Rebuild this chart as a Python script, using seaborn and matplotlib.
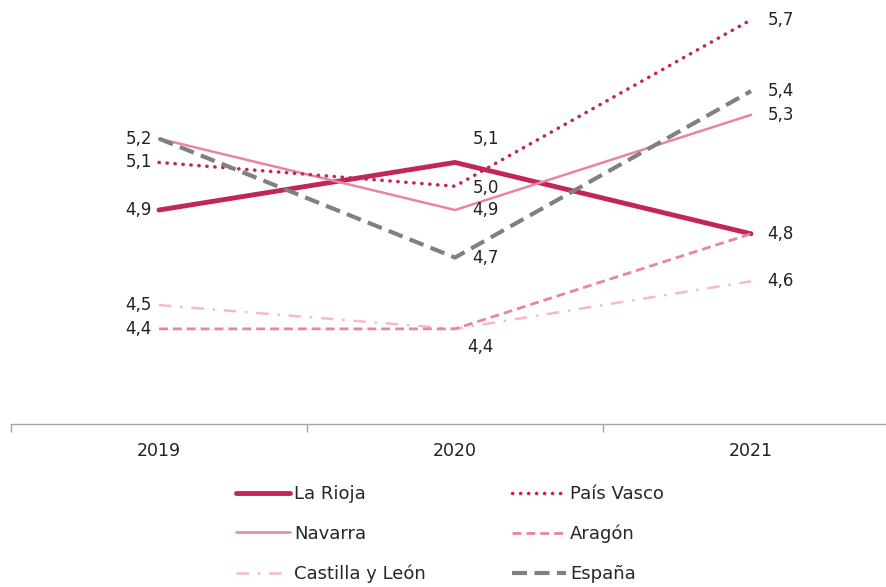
import pandas as pd
import seaborn as sns
import matplotlib.pyplot as plt

sns.set_theme(style="white")
plt.rcParams['font.family'] = ['DejaVu Sans']

years = ["2019", "2020", "2021"]
la_rioja = [4.9, 5.1, 4.8]
pais_vasco = [5.1, 5.0, 5.7]
navarra = [5.2, 4.9, 5.3]
aragon = [4.4, 4.4, 4.8]
castilla_leon = [4.5, 4.4, 4.6]
espana = [5.2, 4.7, 5.4]

# legend order (column first): left column then right column
series = [
    ("La Rioja", la_rioja, "#C2255A", "-", 3.5),
    ("Navarra", navarra, "#E8859F", "-", 1.8),
    ("Castilla y León", castilla_leon, "#F4BACB", (0, (5, 3.5, 1, 3.5)), 1.8),
    ("País Vasco", pais_vasco, "#C2255A", (0, (0.1, 2.2)), 2.5),
    ("Aragón", aragon, "#E8859F", (0, (3.2, 1.8)), 2.0),
    ("España", espana, "#808080", (0, (3.6, 1.8)), 3.0),
]

fig = plt.figure(figsize=(8.86, 5.87), dpi=100)
ax = fig.add_axes([11 / 886, 163 / 587, 888 / 886, 428 / 587])

for name, vals, color, ls, lw in series:
    df = pd.DataFrame({"year": years, "value": vals})
    sns.lineplot(data=df, x="year", y="value", ax=ax, color=color,
                 linestyle=ls, linewidth=lw, label=name, sort=False,
                 dash_capstyle="round" if name == "País Vasco" else "butt")

ax.set_xlim(-0.5, 2.5)
ax.set_ylim(4.0, 5.8)

def fmt(v):
    return f"{v:.1f}".replace(".", ",")

lab_kw = dict(textcoords="offset points", fontsize=12, color="#222222", va="center")
# 2019: left of the points
for v in [5.2, 5.1, 4.9, 4.5, 4.4]:
    ax.annotate(fmt(v), (0, v), xytext=(-5, 0), ha="right", **lab_kw)
# 2020
ax.annotate(fmt(la_rioja[1]), (1, la_rioja[1]), xytext=(22, 17), ha="center", **lab_kw)
ax.annotate(fmt(pais_vasco[1]), (1, pais_vasco[1]), xytext=(22, -1), ha="center", **lab_kw)
ax.annotate(fmt(navarra[1]), (1, navarra[1]), xytext=(22, 0), ha="center", **lab_kw)
ax.annotate(fmt(espana[1]), (1, espana[1]), xytext=(22, 0), ha="center", **lab_kw)
ax.annotate(fmt(aragon[1]), (1, aragon[1]), xytext=(18, -13), ha="center", **lab_kw)
# 2021: right of the points
for v in [5.7, 5.4, 5.3, 4.8, 4.6]:
    ax.annotate(fmt(v), (2, v), xytext=(12, 0), ha="left", **lab_kw)

for side in ["top", "right", "left"]:
    ax.spines[side].set_visible(False)
ax.spines["bottom"].set_color("#A6A6A6")
ax.spines["bottom"].set_linewidth(1.0)
ax.set_yticks([])
ax.set_xticks([0, 1, 2])
ax.set_xticklabels(years)
ax.set_xticks([-0.5, 0.5, 1.5, 2.5], minor=True)
ax.tick_params(axis="x", which="major", length=0, pad=13, labelsize=12.5, labelcolor="#222222")
ax.tick_params(axis="x", which="minor", bottom=True, length=6, width=1, color="#A6A6A6", direction="out")
ax.set_xlabel("")
ax.set_ylabel("")

ax.legend(ncol=2, loc="upper left", bbox_to_anchor=(236 / 886, 102 / 587),
          bbox_transform=fig.transFigure, frameon=False, fontsize=13,
          handlelength=3.0, handletextpad=0.2, columnspacing=4.8,
          labelspacing=1.2, borderaxespad=0, borderpad=0)

fig.savefig("out.png", dpi=100)
